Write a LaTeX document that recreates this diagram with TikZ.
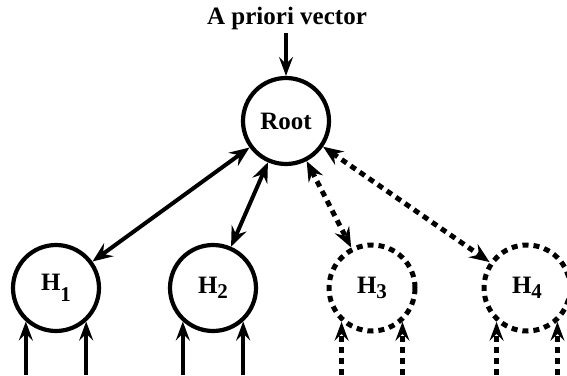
\documentclass[tikz,border=0pt]{standalone}
\usepackage{fontspec}
\setmainfont{Liberation Serif}
\usetikzlibrary{arrows.meta}

\tikzset{
  lbl/.style={font=\bfseries\fontsize{25}{28}\selectfont},
  hyp/.style={circle, draw, line width=4.2pt, minimum size=86pt, inner sep=0pt, lbl},
  hypdash/.style={hyp, dash pattern=on 6pt off 5pt, line width=5pt},
  link/.style={line width=4pt, {Stealth[length=20pt,width=16pt,inset=7pt]}-{Stealth[length=20pt,width=16pt,inset=7pt]}},
  linkdash/.style={link, line width=5pt, dash pattern=on 6pt off 5pt},
  feed/.style={line width=3.5pt, -{Stealth[length=19pt,width=14pt,inset=7pt]}},
  feeddash/.style={feed, line width=4.5pt, dash pattern=on 6pt off 5pt}
}
\newcommand{\sbx}[2]{H\raisebox{#1}{\fontsize{21}{24}\selectfont #2}}

\begin{document}
\begin{tikzpicture}[x=1pt, y=-1pt]
\useasboundingbox (0,0) rectangle (567,375);

\node[lbl] (prior) at (287,18) {A priori vector};
\node[hyp] (root) at (286,121) {Root};

\node[hyp] (h1) at (56,288) {\sbx{-11pt}{1}};
\node[hyp] (h2) at (213,288) {\sbx{-5pt}{2}};
\node[hypdash] (h3) at (372,288) {\sbx{-5pt}{3}};
\node[hypdash] (h4) at (527,288) {\sbx{-5pt}{4}};

\coordinate (base) at (0,375);

% a priori input
\draw[feed] (prior.south -| root.north) -- (root.north);

% links to the root
\draw[link] (root) -- (h1);
\draw[link] (root) -- (h2);
\draw[linkdash] (root) -- (h3);
\draw[linkdash] (root) -- (h4);

% evidence from below
\draw[feed] (h1.-132 |- base) -- (h1.-132);
\draw[feed] (h1.-48 |- base) -- (h1.-48);
\draw[feed] (h2.-132 |- base) -- (h2.-132);
\draw[feed] (h2.-48 |- base) -- (h2.-48);
\draw[feeddash] (h3.-132 |- base) -- (h3.-132);
\draw[feeddash] (h3.-48 |- base) -- (h3.-48);
\draw[feeddash] (h4.-132 |- base) -- (h4.-132);
\draw[feeddash] (h4.-48 |- base) -- (h4.-48);
\end{tikzpicture}
\end{document}
